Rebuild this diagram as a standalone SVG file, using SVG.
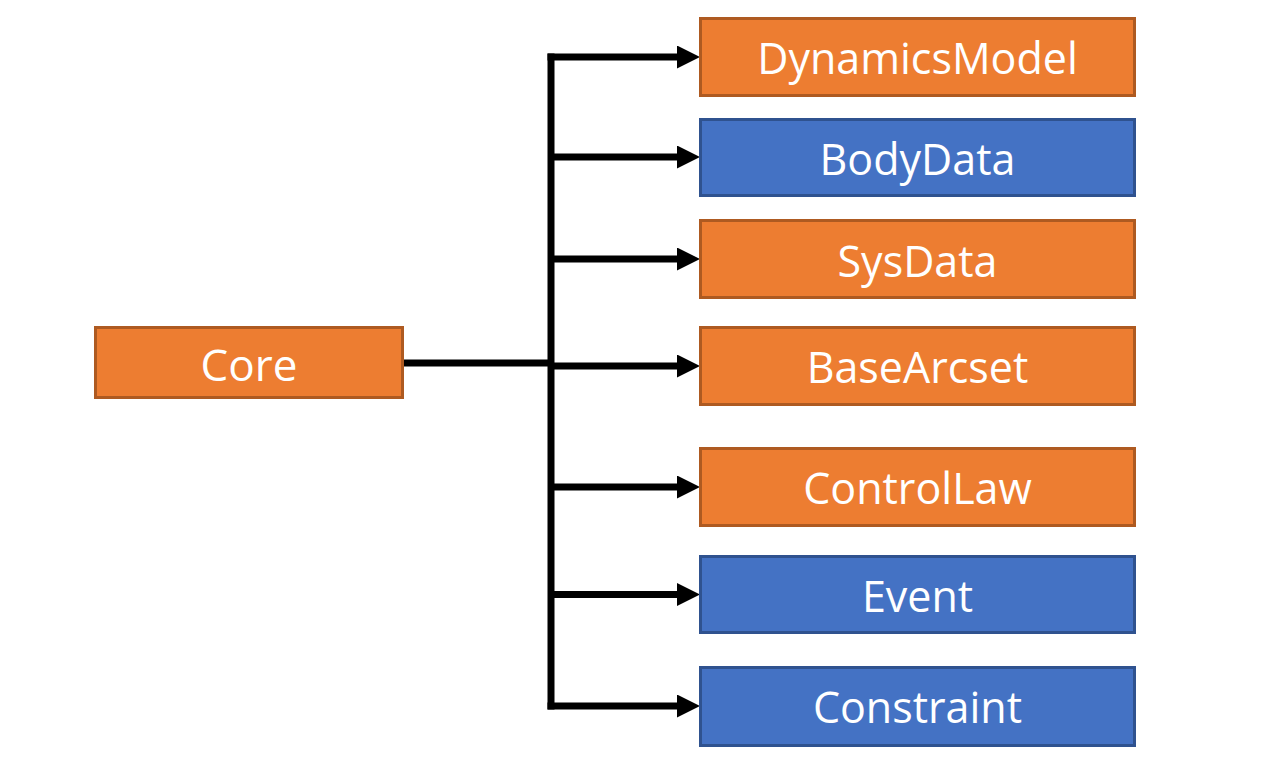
<svg xmlns="http://www.w3.org/2000/svg" width="1280" height="768" viewBox="0 0 1280 768">
<style>
  .orange { fill: #ED7D31; stroke: #AE5A21; stroke-width: 3; }
  .blue { fill: #4472C4; stroke: #2F528F; stroke-width: 3; }
  .label { font-family: "Open Sans", "Noto Sans", "Liberation Sans", sans-serif; font-size: 43px; fill: #FFFFFF; text-anchor: middle; }
  .conn { fill: none; stroke: #000000; stroke-width: 7; stroke-linecap: butt; }
</style>
<defs>
  <marker id="arrow" viewBox="0 0 23 23" refX="3" refY="11.5" markerWidth="23" markerHeight="23" markerUnits="userSpaceOnUse" orient="auto">
    <path d="M0,0 L23,11.5 L0,23 Z" fill="#000000"/>
  </marker>
</defs>
<rect width="1280" height="768" fill="#FFFFFF"/>
<g id="connectors">
  <path class="conn" d="M404 363 H551"/>
  <path class="conn" d="M551 53.5 V709.5"/>
  <path class="conn" d="M547.5 57 H680" marker-end="url(#arrow)"/>
  <path class="conn" d="M551 157 H680" marker-end="url(#arrow)"/>
  <path class="conn" d="M551 259 H680" marker-end="url(#arrow)"/>
  <path class="conn" d="M551 366 H680" marker-end="url(#arrow)"/>
  <path class="conn" d="M551 487 H680" marker-end="url(#arrow)"/>
  <path class="conn" d="M551 594.5 H680" marker-end="url(#arrow)"/>
  <path class="conn" d="M547.5 706 H680" marker-end="url(#arrow)"/>
</g>
<g id="node-core">
  <rect class="orange" x="95.5" y="327.5" width="307" height="70"/>
  <text class="label" x="249" y="381" style="font-size:44px">Core</text>
</g>
<g id="node-dynamicsmodel">
  <rect class="orange" x="700.5" y="18.5" width="434" height="77"/>
  <text class="label" x="917.5" y="74">DynamicsModel</text>
</g>
<g id="node-bodydata">
  <rect class="blue" x="700.5" y="119.5" width="434" height="76"/>
  <text class="label" x="917.5" y="175">BodyData</text>
</g>
<g id="node-sysdata">
  <rect class="orange" x="700.5" y="220.5" width="434" height="77"/>
  <text class="label" x="917.5" y="276.5">SysData</text>
</g>
<g id="node-basearcset">
  <rect class="orange" x="700.5" y="327.5" width="434" height="77"/>
  <text class="label" x="917.5" y="383">BaseArcset</text>
</g>
<g id="node-controllaw">
  <rect class="orange" x="700.5" y="448.5" width="434" height="77"/>
  <text class="label" x="917.5" y="504">ControlLaw</text>
</g>
<g id="node-event">
  <rect class="blue" x="700.5" y="556.5" width="434" height="76"/>
  <text class="label" x="917.5" y="612">Event</text>
</g>
<g id="node-constraint">
  <rect class="blue" x="700.5" y="667.5" width="434" height="78"/>
  <text class="label" x="917.5" y="723">Constraint</text>
</g>
</svg>
